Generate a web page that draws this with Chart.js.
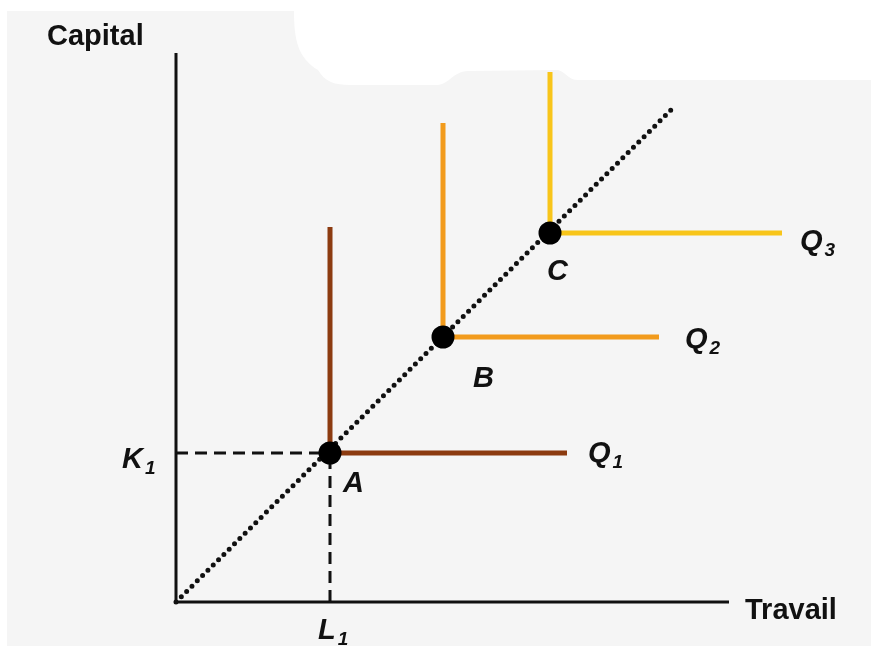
<!DOCTYPE html>
<html>
<head>
<meta charset="utf-8">
<script src="https://cdn.jsdelivr.net/npm/chart.js@4.4.1/dist/chart.umd.min.js"></script>
<style>
  html, body { margin: 0; padding: 0; background: #ffffff; }
  #c { display: block; }
</style>
</head>
<body>
<canvas id="c" width="871" height="646"></canvas>
<script>
// ---- Data (conceptual units: Travail on x, Capital on y) ----
const pointNames = ['A', 'B', 'C'];
const pointX = [3.08, 5.34, 7.48];      // labour at the corner of each isoquant
const pointY = [2.98, 5.30, 7.38];      // capital at the corner of each isoquant
const isoquantNames = ['Q1', 'Q2', 'Q3'];
const isoquantTopY = [7.50, 9.58, 10.60];   // top of the vertical arm
const isoquantRightX = [7.82, 9.66, 12.12]; // end of the horizontal arm
const rayEnd = [9.96, 9.90];
const axisXEnd = 11.06;
const axisYEnd = 10.98;
const axisTitles = ['Capital', 'Travail'];
const refLabels = ['K', 'L'];

// ---- Styles ----
const isoColors = ['#8c3b10', '#f29b1c', '#f8c51a'];
const ink = '#111111';

const lineDs = (pts, color, width, order, dash, cap) => ({
  data: pts, showLine: true, pointRadius: 0, borderColor: color,
  borderWidth: width, borderDash: dash || [], borderCapStyle: cap || 'butt',
  fill: false, tension: 0, order: order
});

const datasets = [];
// axes
datasets.push(lineDs([{x: 0, y: axisYEnd}, {x: 0, y: 0}, {x: axisXEnd, y: 0}], ink, 3, 20));
// dashed reference lines to A
datasets.push(lineDs([{x: 0, y: pointY[0]}, {x: pointX[0], y: pointY[0]}], ink, 3, 19, [12, 7]));
datasets.push(lineDs([{x: pointX[0], y: 0}, {x: pointX[0], y: pointY[0]}], ink, 3, 18, [12, 7]));
// isoquants (L-shaped)
for (let i = 0; i < pointX.length; i++) {
  datasets.push(lineDs([
    {x: pointX[i], y: isoquantTopY[i]},
    {x: pointX[i], y: pointY[i]},
    {x: isoquantRightX[i], y: pointY[i]}
  ], isoColors[i], 5, 10 - i));
}
// dotted expansion ray
datasets.push(lineDs([{x: 0, y: 0}, {x: rayEnd[0], y: rayEnd[1]}], ink, 5, 2, [0, 7.5], 'round'));
// corner points
datasets.push({
  data: pointX.map((x, i) => ({x: x, y: pointY[i]})),
  showLine: false, pointRadius: 11.5, pointHoverRadius: 11.5,
  pointBackgroundColor: '#000', pointBorderWidth: 0, order: 0
});

// ---- Text label placement (data units, left / baseline) ----
const textItems = [
  {main: axisTitles[0], sub: '', x: -2.58, y: 11.14, font: 'bold 29px "Liberation Sans", Arial, sans-serif'},
  {main: axisTitles[1], sub: '', x: 11.38, y: -0.34, font: 'bold 29px "Liberation Sans", Arial, sans-serif'},
  {main: refLabels[0], sub: '1', x: -1.08, y: 2.68},
  {main: refLabels[1], sub: '1', x: 2.84, y: -0.74},
  {main: pointNames[0], sub: '', x: 3.34, y: 2.20},
  {main: pointNames[1], sub: '', x: 5.94, y: 4.30},
  {main: pointNames[2], sub: '', x: 7.42, y: 6.44},
  {main: isoquantNames[0][0], sub: isoquantNames[0].slice(1), x: 8.24, y: 2.80},
  {main: isoquantNames[1][0], sub: isoquantNames[1].slice(1), x: 10.18, y: 5.08},
  {main: isoquantNames[2][0], sub: isoquantNames[2].slice(1), x: 12.48, y: 7.04}
];

const backgroundPlugin = {
  id: 'paper',
  beforeDraw(chart) {
    const ctx = chart.ctx;
    const W = chart.width, H = chart.height;
    ctx.save();
    ctx.fillStyle = '#ffffff';
    ctx.fillRect(0, 0, W, H);
    ctx.fillStyle = '#f5f5f5';
    ctx.beginPath();
    ctx.moveTo(7, H);
    ctx.lineTo(7, 11);
    ctx.lineTo(294, 11);
    ctx.bezierCurveTo(294, 40, 298, 58, 318, 70);
    ctx.bezierCurveTo(325, 82, 335, 85, 350, 85);
    ctx.lineTo(437, 85);
    ctx.bezierCurveTo(450, 84, 452, 72, 468, 71);
    ctx.lineTo(558, 70);
    ctx.bezierCurveTo(566, 72, 568, 80, 578, 80);
    ctx.lineTo(W, 80);
    ctx.lineTo(W, H);
    ctx.closePath();
    ctx.fill();
    ctx.restore();
  }
};

const labelPlugin = {
  id: 'labels',
  afterDatasetsDraw(chart) {
    const ctx = chart.ctx;
    const xs = chart.scales.x, ys = chart.scales.y;
    ctx.save();
    ctx.fillStyle = ink;
    ctx.textAlign = 'left';
    ctx.textBaseline = 'alphabetic';
    textItems.forEach(t => {
      const px = xs.getPixelForValue(t.x);
      const py = ys.getPixelForValue(t.y);
      ctx.font = t.font || 'italic bold 29px "Liberation Sans", Arial, sans-serif';
      ctx.fillText(t.main, px, py);
      if (t.sub) {
        const w = ctx.measureText(t.main).width;
        ctx.font = 'italic bold 19px "Liberation Sans", Arial, sans-serif';
        ctx.fillText(t.sub, px + w + 2, py + 6);
      }
    });
    ctx.restore();
  }
};

new Chart(document.getElementById('c'), {
  type: 'scatter',
  data: { datasets: datasets },
  options: {
    responsive: false,
    animation: false,
    events: [],
    clip: false,
    layout: { padding: 0, autoPadding: false },
    plugins: { legend: { display: false }, tooltip: { enabled: false }, title: { display: false } },
    scales: {
      x: { type: 'linear', min: -3.52, max: 13.90, display: false },
      y: { type: 'linear', min: -0.88, max: 12.04, display: false }
    }
  },
  plugins: [backgroundPlugin, labelPlugin]
});
</script>
</body>
</html>
